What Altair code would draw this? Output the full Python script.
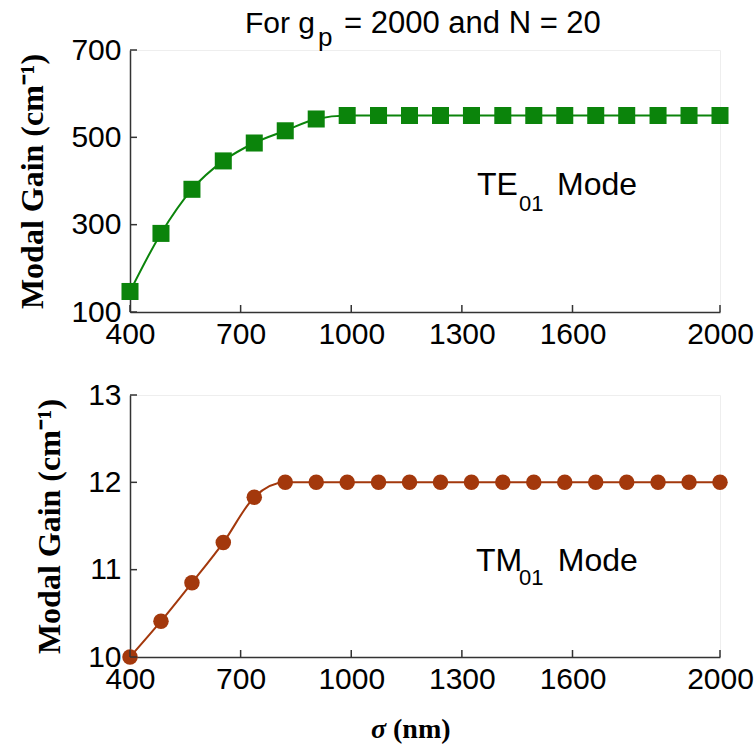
import altair as alt
import pandas as pd

# ---------------- data ----------------
sigma = [400, 484, 568, 653, 737, 821, 905, 989, 1074, 1158,
         1242, 1326, 1411, 1495, 1579, 1663, 1747, 1832, 1916, 2000]
te_gain = [147, 280, 381, 446, 487, 515, 542, 550, 550, 550,
           550, 550, 550, 550, 550, 550, 550, 550, 550, 550]
tm_gain = [10.0, 10.41, 10.85, 11.31, 11.83, 12.0, 12.0, 12.0, 12.0, 12.0,
           12.0, 12.0, 12.0, 12.0, 12.0, 12.0, 12.0, 12.0, 12.0, 12.0]

x_ticks = [400, 700, 1000, 1300, 1600, 2000]
te_ticks = [100, 300, 500, 700]
tm_ticks = [10, 11, 12, 13]

te_label = {"main": "TE", "sub": "01", "tail": "Mode"}
tm_label = {"main": "TM", "sub": "01", "tail": "Mode"}
title_parts = ["For g", "p", "= 2000 and N = 20"]
y_title = "Modal Gain (cm⁻¹)"
x_title_parts = ["σ", "(nm)"]

# ---------------- style ----------------
W, H = 590, 262
GREEN = "#0b840b"
BROWN = "#a3380c"
SANS = "Liberation Sans"
SERIF = "Liberation Serif"
AXIS_COLOR = "#333333"

df = pd.DataFrame({"sigma": sigma, "te": te_gain, "tm": tm_gain})


def panel(field, color, shape, size, ticks, ydomain, label, label_pos, extra=None):
    x_enc = alt.X(
        "sigma:Q",
        scale=alt.Scale(domain=[400, 2000], nice=False, zero=False),
        axis=alt.Axis(values=x_ticks, format="d", title=None, labelFlush=False, labelOverlap=False,
                      labelFont=SANS, labelFontSize=30, labelColor="black",
                      labelPadding=7, ticks=False, grid=False,
                      domainColor=AXIS_COLOR, domainWidth=1.5),
    )
    y_enc = alt.Y(
        f"{field}:Q",
        scale=alt.Scale(domain=ydomain, nice=False, zero=False),
        axis=alt.Axis(values=ticks, format="d", title=y_title, labelFlush=False, labelOverlap=False,
                      labelFont=SANS, labelFontSize=30, labelColor="black",
                      labelPadding=9, ticks=False, grid=False,
                      domainColor=AXIS_COLOR, domainWidth=1.5,
                      titleFont=SERIF, titleFontSize=32, titleFontWeight="bold",
                      titleColor="black", titlePadding=21),
    )
    base = alt.Chart(df)
    line = base.mark_line(color=color, strokeWidth=2, interpolate="monotone").encode(x=x_enc, y=y_enc)
    pts = base.mark_point(shape=shape, filled=True, size=size, color=color, opacity=1).encode(x=x_enc, y=y_enc)

    xt = alt.Chart(pd.DataFrame({"sigma": x_ticks})).mark_rule(color=AXIS_COLOR, strokeWidth=1.5).encode(
        x=x_enc, y=alt.value(H), y2=alt.value(H - 7))
    yt = alt.Chart(pd.DataFrame({field: ticks})).mark_rule(color=AXIS_COLOR, strokeWidth=1.5).encode(
        y=y_enc, x=alt.value(0), x2=alt.value(7))

    (mx, my), (sx, sy), (tx, ty) = label_pos
    ann_df = pd.DataFrame({"sigma": [mx, sx, tx], field: [my, sy, ty],
                           "t": [label["main"], label["sub"], label["tail"]],
                           "k": ["main", "sub", "tail"]})
    ann_main = alt.Chart(ann_df).transform_filter(alt.datum.k != "sub").mark_text(
        font=SANS, fontSize=32, align="left", baseline="alphabetic", color="black").encode(
        x=x_enc, y=y_enc, text="t:N")
    ann_sub = alt.Chart(ann_df).transform_filter(alt.datum.k == "sub").mark_text(
        font=SANS, fontSize=22, align="left", baseline="alphabetic", color="black").encode(
        x=x_enc, y=y_enc, text="t:N")

    layers = [line, pts, xt, yt, ann_main, ann_sub]
    if extra:
        layers += extra
    return alt.layer(*layers).properties(width=W, height=H)


one = pd.DataFrame({"t": [0]})
title_layers = [
    alt.Chart(one).mark_text(font=SANS, fontSize=30, align="left", baseline="alphabetic", color="black").encode(
        x=alt.value(115), y=alt.value(-17), text=alt.value(title_parts[0])),
    alt.Chart(one).mark_text(font=SANS, fontSize=26, align="left", baseline="alphabetic", color="black").encode(
        x=alt.value(188), y=alt.value(-4), text=alt.value(title_parts[1])),
    alt.Chart(one).mark_text(font=SANS, fontSize=31, align="left", baseline="alphabetic", color="black").encode(
        x=alt.value(214), y=alt.value(-17), text=alt.value(title_parts[2])),
]

xtitle_layers = [
    alt.Chart(one).mark_text(font=SERIF, fontSize=28, fontWeight="bold", fontStyle="italic",
                             align="left", baseline="alphabetic", color="black").encode(
        x=alt.value(241), y=alt.value(343), text=alt.value(x_title_parts[0])),
    alt.Chart(one).mark_text(font=SERIF, fontSize=28, fontWeight="bold",
                             align="left", baseline="alphabetic", color="black").encode(
        x=alt.value(263), y=alt.value(343), text=alt.value(x_title_parts[1])),
]

top = panel("te", GREEN, "square", 290, te_ticks, [100, 700], te_label,
            [(1341, 369), (1455, 332), (1558, 369)], extra=title_layers)
bottom = panel("tm", BROWN, "circle", 240, tm_ticks, [10, 13], tm_label,
               [(1338, 10.99), (1455, 10.82), (1560, 10.99)], extra=xtitle_layers)

chart = alt.vconcat(top, bottom, spacing=83, bounds="flush").properties(
    padding={"left": 16, "top": 7, "right": 0, "bottom": 3},
    background="white",
).configure_view(stroke="#eeeeee", strokeWidth=1)

chart.save("out.html", embed_options={"renderer": "svg", "actions": False})
